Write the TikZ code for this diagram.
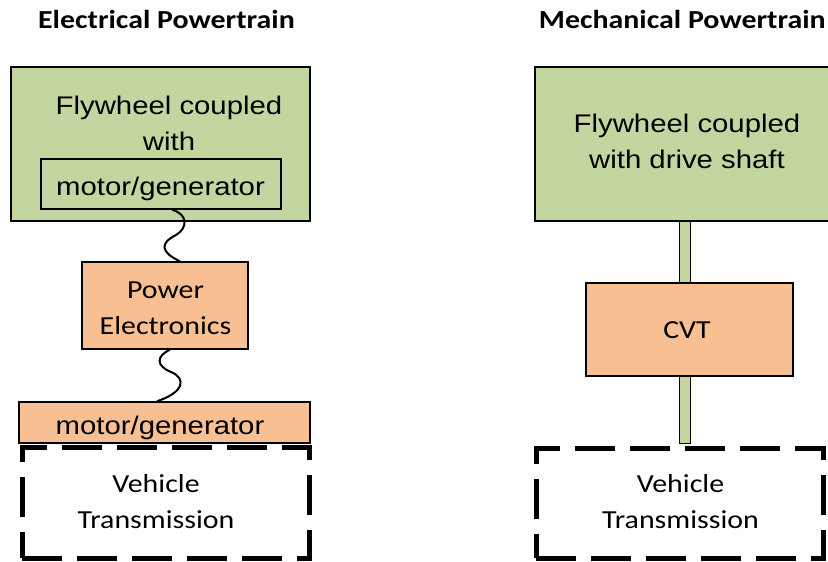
\documentclass[tikz,border=0pt]{standalone}
\usepackage{fontspec}
\usepackage{graphicx}
\newfontfamily\arialf{Liberation Sans}
\newfontfamily\calf{Carlito}
\definecolor{boxgreen}{HTML}{C4D6A0}
\definecolor{boxorange}{HTML}{F8C092}
\newcommand\hs[1]{\scalebox{1.15}[1]{\begin{tabular}{@{}c@{}}#1\end{tabular}}}
\tikzset{
  box/.style={draw=black, line width=1.5pt, inner sep=0pt},
  greenbox/.style={box, fill=boxgreen},
  orangebox/.style={box, fill=boxorange},
  dashbox/.style={draw=black, line width=5pt, dash pattern=on 40pt off 15pt, inner sep=0pt},
  atext/.style={inner sep=0pt, font={\arialf\fontsize{25.5}{36}\selectfont}},
  ctext/.style={inner sep=0pt, font={\calf\fontsize{26}{36}\selectfont}},
  ttext/.style={inner sep=0pt, font={\calf\bfseries\fontsize{26}{36}\selectfont}},
  wave/.style={draw=black, line width=2pt},
  shaft/.style={draw=black, fill=boxgreen, line width=1pt},
}
\begin{document}
\begin{tikzpicture}[x=1pt, y=-1pt]
\clip (0,0) rectangle (828,562);
\fill[white] (0,0) rectangle (828,562);
% titles
\node[ttext] (t1) at (166.5,21.1) {\hs{Electrical Powertrain}};
\node[ttext] (t2) at (682.3,21.1) {\hs{Mechanical Powertrain}};
% left column
\node[greenbox, minimum width=299pt, minimum height=154pt] (fw1) at (160.5,144) {};
\node[atext] (fw1t) at (169,125.3) {\hs{Flywheel coupled\\with}};
\node[greenbox, minimum width=240pt, minimum height=50pt] (mg1) at (161,184) {};
\node[atext] (mg1t) at (160.5,187.8) {\hs{motor/generator}};
\node[orangebox, minimum width=166pt, minimum height=87pt] (pe) at (165,305.5) {};
\node[ctext] (pet) at (165.5,308.8) {\hs{Power\\Electronics}};
\node[orangebox, minimum width=291pt, minimum height=41pt] (mg2) at (164.5,422.5) {};
\node[atext] (mg2t) at (160,426.8) {\hs{motor/generator}};
\node[dashbox, minimum width=287pt, minimum height=111pt] (vt1) at (165.5,502.5) {};
\node[ctext] (vt1t) at (156,503.3) {\hs{Vehicle\\Transmission}};
% wavy electrical links
\draw[wave] ([xshift=11pt]mg1.south) .. controls (188,214) and (188,228) .. (176,235)
  .. controls (160,243) and (160,252) .. ([xshift=15pt]pe.north);
\draw[wave] ([xshift=5pt]pe.south) .. controls (156,356) and (156,366) .. (171,372)
  .. controls (186,378) and (185,392) .. ([xshift=-7.5pt]mg2.north);
% right column
\node[greenbox, minimum width=304pt, minimum height=154pt] (fw2) at (687,144) {};
\node[atext] (fw2t) at (687,143.3) {\hs{Flywheel coupled\\with drive shaft}};
\node[orangebox, minimum width=207pt, minimum height=93pt] (cvt) at (689.5,329.5) {};
\node[ctext] (cvtt) at (687,330.8) {\hs{CVT}};
\node[dashbox, minimum width=287pt, minimum height=110pt] (vt2) at (679.5,503) {};
\node[ctext] (vt2t) at (680.5,503.3) {\hs{Vehicle\\Transmission}};
% shafts
\coordinate (sL) at (679,0);
\coordinate (sR) at (690,0);
\filldraw[shaft] (fw2.south -| sL) rectangle (cvt.north -| sR);
\filldraw[shaft] (cvt.south -| sL) rectangle ([yshift=2.5pt]vt2.north -| sR);
\end{tikzpicture}
\end{document}
